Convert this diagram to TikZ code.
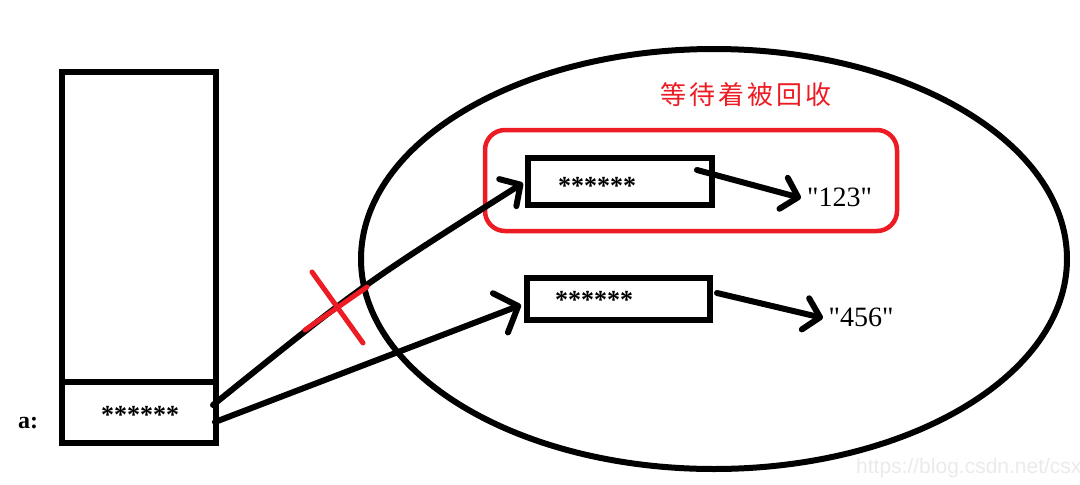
\documentclass[tikz,border=0pt]{standalone}
\usepackage{fontspec}
\setmainfont{Liberation Serif}
\newfontfamily\qfont{Liberation Serif}[Ligatures=TeXOff]
\newfontfamily\cjk[LetterSpace=12]{Noto Sans CJK SC}
\newfontfamily\wmfont{Liberation Sans}
\usetikzlibrary{arrows.meta,shapes.geometric}
\definecolor{redmark}{HTML}{ED1C24}
\definecolor{wmgray}{HTML}{EBEBEB}
\begin{document}
\begin{tikzpicture}[x=1pt,y=-1pt,
  memcell/.style={draw,line width=6pt,rectangle,inner sep=0pt},
  ptr/.style={line width=6pt,line cap=round,line join=round},
  barbS/.style={-{Straight Barb[length=15pt,width=32pt,line cap=round,line join=round]}},
  barbL/.style={-{Straight Barb[length=19pt,width=42pt,line cap=round,line join=round]}},
  txt/.style={inner sep=0pt,font=\fontsize{28}{30}\selectfont\qfont},
  stars/.style={inner sep=0pt,font=\fontsize{26}{28}\selectfont\bfseries},
  cross/.style={draw=redmark,line width=5pt,line cap=round}]
\useasboundingbox (0,0) rectangle (1080,485);
\fill[white] (0,0) rectangle (1080,485);

% stack
\node[memcell,minimum width=154pt,minimum height=371pt] (stack) at (139,257) {};
\node[memcell,minimum width=154pt,minimum height=60.5pt] (cellA) at (139,412.25) {};
\node[stars] (starsA) at (140,415) {******};
\node[inner sep=0pt,font=\fontsize{24}{26}\selectfont\bfseries] (labelA) at (28,423) {a:};

% heap
\node[draw,ellipse,line width=6pt,minimum width=706pt,minimum height=420pt,inner sep=0pt] (heap) at (714,259) {};

% garbage group
\node[draw=redmark,line width=4.5pt,rounded corners=20pt,minimum width=412pt,minimum height=101pt,inner sep=0pt] (garbage) at (691,180.5) {};
\node[inner sep=0pt,text=redmark,font=\fontsize{26}{28}\selectfont\cjk] (title) at (746,95) {等待着被回收};

% objects
\node[memcell,minimum width=184pt,minimum height=47pt] (box1) at (620,181.5) {};
\node[stars] (stars1) at (597,186) {******};
\node[memcell,minimum width=183pt,minimum height=42pt] (box2) at (618.5,299) {};
\node[stars] (stars2) at (594,300) {******};

\node[txt] (s123) at (839.5,197.5) {"123"};
\node[txt] (s456) at (861,317.5) {"456"};

% connector ends
\coordinate (a1) at (213,405);
\coordinate (a2) at (215,422);
\coordinate (t1) at (523,183);
\coordinate (t2) at (521,305);
\coordinate (b1) at (697,170);
\coordinate (b2) at (717,293);
\coordinate (t3) at (801,198);
\coordinate (t4) at (823,318);

\draw[ptr,barbS] (a1) .. controls (362,285) .. (t1);
\draw[ptr,barbL] (a2) -- (t2);
\draw[ptr,barbS] (b1) -- (t3);
\draw[ptr,barbS] (b2) -- (t4);

% red cross
\draw[cross] (312,272) -- (363,343);
\draw[cross] (305,330) -- (367,287);

% watermark
\node[anchor=base west,inner sep=0pt,text=wmgray,font=\fontsize{21}{23}\selectfont\wmfont] (wm) at (856,473) {https://blog.csdn.net/csx};
\end{tikzpicture}
\end{document}
